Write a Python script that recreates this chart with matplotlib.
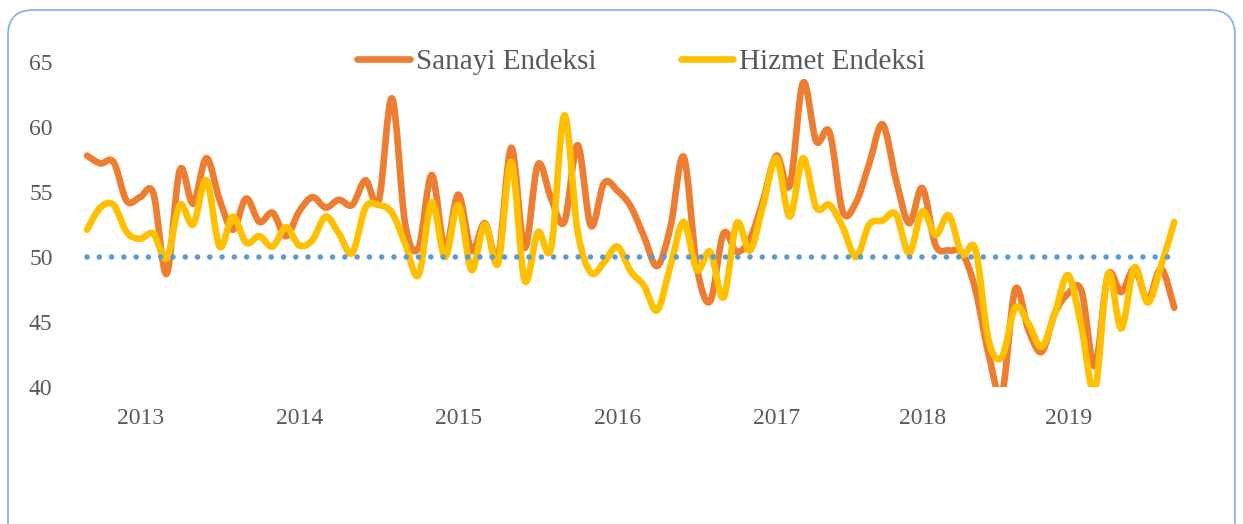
import numpy as np
import matplotlib
matplotlib.use('Agg')
import matplotlib.pyplot as plt
from matplotlib.path import Path
from matplotlib.patches import PathPatch, FancyBboxPatch
from matplotlib.lines import Line2D


# monthly readings
sanayi = [57.8, 57.2, 57.3, 54.3, 54.6, 54.9, 48.7, 56.7, 54.1, 57.6,
          54.4, 52.1, 54.5, 52.7, 53.4, 51.6, 53.5, 54.6, 53.8, 54.4,
          54.0, 55.9, 54.3, 62.2, 52.5, 50.7, 56.3, 50.6, 54.8, 50.5,
          52.6, 50.0, 58.4, 50.7, 57.1, 54.5, 52.7, 58.6, 52.4, 55.7,
          55.1, 53.9, 51.6, 49.3, 52.3, 57.7, 49.2, 46.6, 51.8, 50.4,
          51.4, 54.4, 57.8, 55.5, 63.4, 58.9, 59.6, 53.5, 54.2, 57.2,
          60.2, 56.0, 52.6, 55.3, 50.9, 50.5, 50.3, 47.5, 42.5, 39.5,
          47.5, 44.4, 42.7, 45.7, 47.2, 47.4, 41.6, 48.6, 47.3, 49.1,
          46.7, 49.1, 46.1]
hizmet = [52.1, 53.8, 54.0, 51.9, 51.4, 51.8, 49.9, 54.0, 52.5, 55.9,
          50.8, 53.1, 51.1, 51.6, 50.8, 52.3, 50.9, 51.3, 53.1, 51.8,
          50.3, 53.8, 54.0, 53.4, 51.0, 48.6, 54.2, 50.0, 54.0, 49.0,
          52.5, 49.5, 57.3, 48.2, 51.9, 50.7, 60.9, 52.0, 48.8, 49.6,
          50.8, 48.9, 47.8, 45.9, 49.3, 52.7, 49.0, 50.4, 46.9, 52.6,
          50.5, 54.0, 57.6, 53.1, 57.6, 53.8, 54.0, 52.3, 50.0, 52.5,
          52.8, 53.3, 50.3, 53.5, 51.7, 53.2, 50.2, 50.6, 43.6, 42.3,
          46.1, 44.9, 43.1, 45.7, 48.6, 44.6, 39.7, 48.7, 44.5, 49.2,
          46.5, 49.3, 52.7]
threshold = 50
years = ['2013', '2014', '2015', '2016', '2017', '2018', '2019']
year_pos = [4, 16, 28, 40, 52, 63, 74]
yticks = [40, 45, 50, 55, 60, 65]

grey = '#595959'
plt.rcParams['font.family'] = ['Liberation Serif', 'DejaVu Serif']


def smooth_path(y):
    # excel-like smoothed line: bezier segments through every point
    x = np.arange(len(y), dtype=float)
    p = np.column_stack([x, np.asarray(y, float)])
    verts = [p[0]]
    codes = [Path.MOVETO]
    for i in range(len(p) - 1):
        p0 = p[i - 1] if i > 0 else p[i]
        p3 = p[i + 2] if i + 2 < len(p) else p[i + 1]
        c1 = p[i] + (p[i + 1] - p0) / 6.0
        c2 = p[i + 1] - (p3 - p[i]) / 6.0
        verts += [c1, c2, p[i + 1]]
        codes += [Path.CURVE4] * 3
    return Path(verts, codes)


fig = plt.figure(figsize=(12.43, 5.24), dpi=100)
ax = fig.add_axes([80.4 / 1243, 1 - 387 / 524, 1100.5 / 1243, 325 / 524])

ax.hlines(threshold, 0, len(sanayi) - 1.5, colors='#5B9BD5', lw=4.0,
          linestyles=[(0, (0.01, 2.2))], capstyle='round')
for s, c in [(sanayi, '#ED7D31'), (hizmet, '#FFC000')]:
    ax.add_patch(PathPatch(smooth_path(s), facecolor='none', edgecolor=c,
                           lw=4.8, capstyle='round', joinstyle='round'))

ax.set_xlim(-0.5, len(sanayi) - 0.5)
ax.set_ylim(40, 65)
ax.set_yticks(yticks)
ax.set_xticks(year_pos)
ax.set_xticklabels(years)
ax.tick_params(length=0, labelsize=17, colors=grey)
ax.tick_params(axis='y', pad=20)
ax.tick_params(axis='x', pad=15)
for sp in ax.spines.values():
    sp.set_visible(False)

handles = [Line2D([], [], color='#ED7D31', lw=4.8, solid_capstyle='round'),
           Line2D([], [], color='#FFC000', lw=4.8, solid_capstyle='round')]
fig.legend(handles, ['Sanayi Endeksi', 'Hizmet Endeksi'], loc='center',
           bbox_to_anchor=(0.516, 0.882), ncol=2, frameon=False,
           fontsize=21, handlelength=1.8, handletextpad=0.2,
           columnspacing=2.9, labelcolor=grey)

fig.patches.append(FancyBboxPatch((0.08, -0.4), 12.27, 5.54,
                                  boxstyle='round,pad=0,rounding_size=0.25',
                                  transform=fig.dpi_scale_trans,
                                  facecolor='none', edgecolor='#8DB3E2', lw=1.3))

fig.savefig('out.png', dpi=100)
